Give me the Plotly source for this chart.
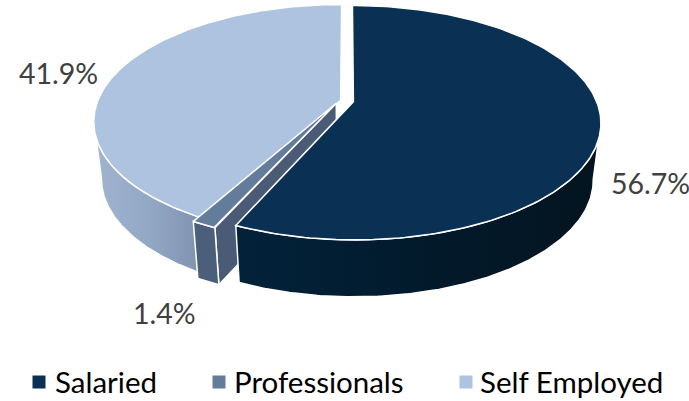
import numpy as np
import plotly.graph_objects as go

# chart data
categories = ['Salaried', 'Professionals', 'Self Employed']
shares = [56.7, 1.4, 41.9]
pct_labels = ['56.7%', '1.4%', '41.9%']

# look of the fake 3d pie (pixels, axes run 1:1 with the page)
top_colors = ['#0a3154', '#647c9c', '#adc3e0']
CX, CY = 347, 101
R = 243
TILT = 113.2
PERSP = 0.1794
DEPTH = 57
SHRINK = 0.97  # bottom of the pie is a bit smaller, perspective
EXPLODE = [0.027, 0.03, 0.027]


def project(cx_d, cy_d, r, theta, depth=0):
    X = cx_d + r * np.sin(theta)
    Y = cy_d + r * np.cos(theta)
    s = 1 / (1 + PERSP * Y)
    x = CX + R * X * s
    if depth:
        x = CX + (x - CX) * SHRINK
    return x, CY - TILT * Y * s + depth


def poly(xs, ys, color, grad=None):
    t = go.Scatter(x=list(xs), y=list(ys), mode='lines', fill='toself', hoverinfo='skip',
                   showlegend=False, line=dict(color='white', width=1.5))
    if grad is None:
        t.fillcolor = color
    else:
        t.fillgradient = dict(type='horizontal', colorscale=grad)
    return t


# slice angles, clockwise from the top
edges = np.radians(np.concatenate([[0], np.cumsum(shares)]) * 3.6)
slices = []
for i in range(3):
    a, b = edges[i], edges[i + 1]
    mid = (a + b) / 2
    slices.append(dict(a=a, b=b, ox=EXPLODE[i] * np.sin(mid), oy=EXPLODE[i] * np.cos(mid)))
# the small slice sits further left than its own direction would put it
slices[1]['ox'], slices[1]['oy'] = -0.044, -0.02


def top(sl, color):
    th = np.linspace(sl['a'], sl['b'], 200)
    x, y = project(sl['ox'], sl['oy'], 1, th)
    ax, ay = project(sl['ox'], sl['oy'], 0, 0.0)
    return poly(np.r_[ax, x, ax], np.r_[ay, y, ay], color)


def rim(sl, t0, t1, color=None, grad=None):
    th = np.linspace(t0, t1, 200)
    x, y = project(sl['ox'], sl['oy'], 1, th)
    x2, y2 = project(sl['ox'], sl['oy'], 1, th[::-1], DEPTH)
    return poly(np.r_[x, x2, x[0]], np.r_[y, y2, y[0]], color, grad)


def radial_face(sl, t, color):
    x, y = project(sl['ox'], sl['oy'], 1, t)
    x2, y2 = project(sl['ox'], sl['oy'], 1, t, DEPTH)
    ax, ay = project(sl['ox'], sl['oy'], 0, 0.0)
    ax2, ay2 = project(sl['ox'], sl['oy'], 0, 0.0, DEPTH)
    return poly([ax, x, x2, ax2, ax], [ay, y, y2, ay2, ay], color)


sal, pro, sel = slices
fig = go.Figure()
# back to front
fig.add_trace(rim(sel, sel['a'], np.radians(260), grad=[[0, '#a0b4d0'], [0.5, '#93a8c5'], [1, '#7e92ae']]))
fig.add_trace(top(sel, top_colors[2]))
fig.add_trace(radial_face(pro, pro['a'], '#4b5b76'))
fig.add_trace(rim(pro, pro['a'], pro['b'], '#4c5f7a'))
fig.add_trace(top(pro, top_colors[1]))
fig.add_trace(rim(sal, np.radians(100), sal['b'], grad=[[0, '#02223a'], [0.5, '#021a2c'], [1, '#03141f']]))
fig.add_trace(top(sal, top_colors[0]))

# value labels
label_x = [650, 164, 58]
label_y = [183, 313, 73]
for lab, lx, ly in zip(pct_labels, label_x, label_y):
    fig.add_annotation(x=lx, y=ly, text=lab, showarrow=False,
                       font=dict(family='Lato', size=28.5, color='#404040'))

# legend
swatch_x = [39, 219, 466]
text_x = [53, 232, 478]
for cat, col, sx, tx in zip(categories, top_colors, swatch_x, text_x):
    fig.add_trace(go.Scatter(x=[sx], y=[382], mode='markers', hoverinfo='skip', showlegend=False,
                             marker=dict(symbol='square', size=13, color=col)))
    fig.add_annotation(x=tx, y=381, text=cat, showarrow=False, xanchor='left',
                       font=dict(family='Lato', size=29.5, color='black'))

fig.update_xaxes(range=[0, 689], visible=False, fixedrange=True)
fig.update_yaxes(range=[401, 0], visible=False, fixedrange=True)
fig.update_layout(width=689, height=401, margin=dict(l=0, r=0, t=0, b=0),
                  plot_bgcolor='white', paper_bgcolor='white', showlegend=False)

# drop the page's 8px body margin so the figure fills the window
fig.write_html("out.html", config={'displayModeBar': False},
               post_script="document.body.style.margin='0';")
